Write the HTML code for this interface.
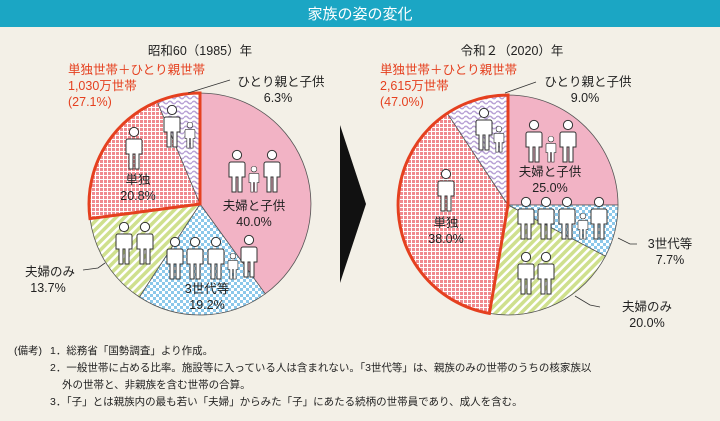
<!DOCTYPE html>
<html><head><meta charset="utf-8"><style>
body{margin:0;width:720px;height:421px;overflow:hidden;background:#f3f0e7;font-family:"Liberation Sans","Noto Sans CJK JP",sans-serif;}
</style></head><body>
<svg width="720" height="421" viewBox="0 0 720 421" xmlns="http://www.w3.org/2000/svg" style="display:block">
<defs>
<pattern id="chk" width="6" height="6" patternUnits="userSpaceOnUse"><rect width="6" height="6" fill="#fff"/><rect width="3" height="3" fill="#8cc8ea"/><rect x="3" y="3" width="3" height="3" fill="#8cc8ea"/></pattern>
<pattern id="grd" width="4" height="4" patternUnits="userSpaceOnUse"><rect width="4" height="4" fill="#fff"/><rect width="3" height="3" fill="#f08a8f"/></pattern>
<pattern id="str" width="6" height="6" patternUnits="userSpaceOnUse" patternTransform="rotate(45)"><rect width="6" height="6" fill="#fff"/><rect width="3.5" height="6" fill="#cfe08e"/></pattern>
<pattern id="wav" width="8" height="5" patternUnits="userSpaceOnUse"><rect width="8" height="5" fill="#fff"/><path d="M0,2.5 Q2,0 4,2.5 T8,2.5" fill="none" stroke="#b9a3d6" stroke-width="1.6"/></pattern>
<g id="ad"><circle cx="8" cy="5" r="4.6" fill="#fff" stroke="#333" stroke-width="1"/><path d="M2,12 h12 a2,2 0 0 1 2,2 v13 h-3 v15 h-4 v-15 h-2 v15 h-4 v-15 h-3 v-13 a2,2 0 0 1 2,-2z" fill="#fff" stroke="#333" stroke-width="1"/></g>
<g id="ch"><use href="#ad" transform="scale(0.62)"/></g>
</defs>
<rect width="720" height="27" fill="#1ba6c4"/>
<text x="360" y="19" font-size="15" fill="#fff" text-anchor="middle">家族の姿の変化</text>

<!-- left pie -->
<g stroke="#555" stroke-width="0.8">
<path d="M200,204 L200,93 A111,111 0 0 1 265.2,293.8Z" fill="#f2b3c5"/>
<path d="M200,204 L265.2,293.8 A111,111 0 0 1 139.4,297Z" fill="url(#chk)"/>
<path d="M200,204 L139.4,297 A111,111 0 0 1 90,218.6Z" fill="url(#str)"/>
<path d="M200,204 L90,218.6 A111,111 0 0 1 157.2,101.6Z" fill="url(#grd)"/>
<path d="M200,204 L157.2,101.6 A111,111 0 0 1 200,93Z" fill="url(#wav)"/>
</g>
<path d="M200,204 L90,218.6 A111,111 0 0 1 200,93Z" fill="none" stroke="#e5401f" stroke-width="3"/>

<!-- right pie -->
<g stroke="#555" stroke-width="0.8">
<path d="M508,205 L508,95 A110,110 0 0 1 618,205Z" fill="#f2b3c5"/>
<path d="M508,205 L618,205 A110,110 0 0 1 605.4,256.2Z" fill="url(#chk)"/>
<path d="M508,205 L605.4,256.2 A110,110 0 0 1 489.4,313.4Z" fill="url(#str)"/>
<path d="M508,205 L489.4,313.4 A110,110 0 0 1 447.3,113.3Z" fill="url(#grd)"/>
<path d="M508,205 L447.3,113.3 A110,110 0 0 1 508,95Z" fill="url(#wav)"/>
</g>
<path d="M508,205 L489.4,313.4 A110,110 0 0 1 508,95Z" fill="none" stroke="#e5401f" stroke-width="3"/>

<polygon points="340,125 366,204 340,283" fill="#111"/>

<!-- figures left -->
<use href="#ad" x="126" y="127"/>
<use href="#ad" x="164" y="105"/>
<use href="#ch" x="185" y="122"/>
<use href="#ad" x="229" y="150"/>
<use href="#ad" x="264" y="150"/>
<use href="#ch" x="249" y="166"/>
<use href="#ad" x="116" y="222"/>
<use href="#ad" x="137" y="222"/>
<use href="#ad" x="167" y="237"/>
<use href="#ad" x="187" y="237"/>
<use href="#ad" x="208" y="237"/>
<use href="#ch" x="228" y="253"/>
<use href="#ad" x="241" y="235"/>
<!-- figures right -->
<use href="#ad" x="476" y="108"/>
<use href="#ch" x="494" y="126"/>
<use href="#ad" x="438" y="169"/>
<use href="#ad" x="526" y="120"/>
<use href="#ad" x="560" y="120"/>
<use href="#ch" x="546" y="136"/>
<use href="#ad" x="518" y="197"/>
<use href="#ad" x="538" y="197"/>
<use href="#ad" x="559" y="197"/>
<use href="#ch" x="578" y="213"/>
<use href="#ad" x="591" y="197"/>
<use href="#ad" x="518" y="252"/>
<use href="#ad" x="538" y="252"/>

<g stroke="#333" stroke-width="0.8" fill="none">
<path d="M188,93 L230,80"/><path d="M505,93 L536,82"/>
<path d="M83,270 L98,268 L105,263"/>
<path d="M618,238 L630,244 L637,244"/>
<path d="M575,296 L590,305 L600,307"/>
</g>

<g font-size="12.5" fill="#222" text-anchor="middle">
<text x="200" y="55">昭和60（1985）年</text>
<text x="512" y="55">令和２（2020）年</text>
<text x="281" y="86">ひとり親と子供</text><text x="278" y="102">6.3%</text>
<text x="138" y="184">単独</text><text x="138" y="200">20.8%</text>
<text x="254" y="210">夫婦と子供</text><text x="254" y="226">40.0%</text>
<text x="207" y="293">3世代等</text><text x="207" y="309">19.2%</text>
<text x="50" y="276">夫婦のみ</text><text x="48" y="292">13.7%</text>
<text x="588" y="86">ひとり親と子供</text><text x="585" y="102">9.0%</text>
<text x="446" y="227">単独</text><text x="446" y="243">38.0%</text>
<text x="550" y="176">夫婦と子供</text><text x="550" y="192">25.0%</text>
<text x="670" y="248">3世代等</text><text x="670" y="264">7.7%</text>
<text x="647" y="311">夫婦のみ</text><text x="647" y="327">20.0%</text>
</g>
<g font-size="12.5" fill="#e5401f">
<text x="68" y="74">単独世帯＋ひとり親世帯</text>
<text x="68" y="90">1,030万世帯</text>
<text x="68" y="106">(27.1%)</text>
<text x="380" y="74">単独世帯＋ひとり親世帯</text>
<text x="380" y="90">2,615万世帯</text>
<text x="380" y="106">(47.0%)</text>
</g>
<g font-size="10.5" fill="#222">
<text x="14" y="354">(備考)</text>
<text x="50" y="354">1．総務省「国勢調査」より作成。</text>
<text x="50" y="371">2．一般世帯に占める比率。施設等に入っている人は含まれない。「3世代等」は、親族のみの世帯のうちの核家族以</text>
<text x="62" y="388">外の世帯と、非親族を含む世帯の合算。</text>
<text x="50" y="405">3．「子」とは親族内の最も若い「夫婦」からみた「子」にあたる続柄の世帯員であり、成人を含む。</text>
</g>
</svg>
</body></html>
